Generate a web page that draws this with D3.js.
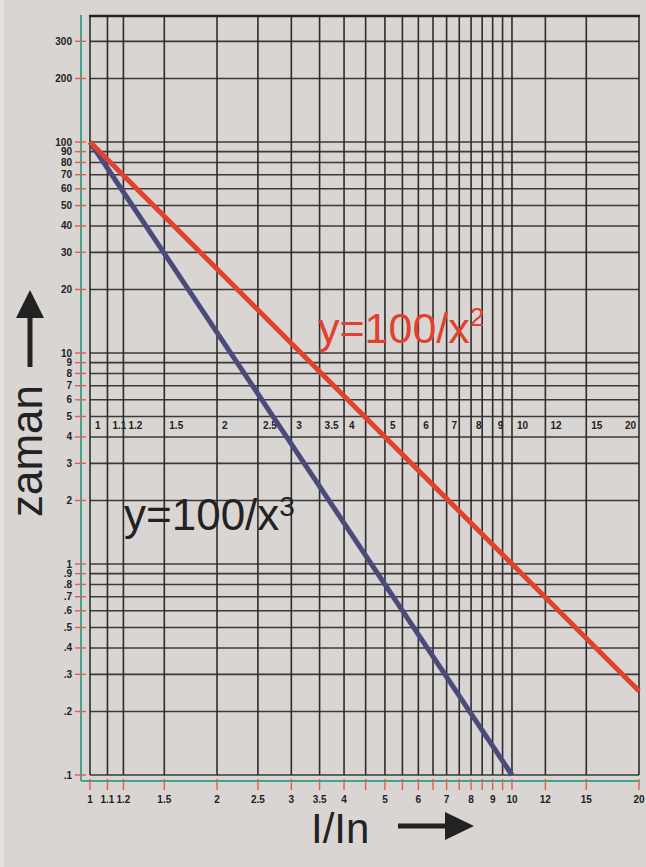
<!DOCTYPE html>
<html>
<head>
<meta charset="utf-8">
<script src="https://cdn.jsdelivr.net/npm/d3@7"></script>
<style>
  body { margin: 0; background: #d9d5d2; }
  svg { display: block; font-family: "Liberation Sans", Arial, sans-serif; }
</style>
</head>
<body>
<script>
// grid values on the two log axes
var xGrid = [1, 1.1, 1.2, 1.5, 2, 2.5, 3, 3.5, 4, 4.5, 5, 5.5, 6, 6.5, 7, 7.5, 8, 8.5, 9, 9.5, 10, 12, 15, 20];
var xLabels = [1, 1.1, 1.2, 1.5, 2, 2.5, 3, 3.5, 4, 5, 6, 7, 8, 9, 10, 12, 15, 20];
var yGrid = [0.1, 0.2, 0.3, 0.4, 0.5, 0.6, 0.7, 0.8, 0.9, 1, 2, 3, 4, 5, 6, 7, 8, 9, 10, 20, 30, 40, 50, 60, 70, 80, 90, 100, 200, 300];
var yLabels = [".1", ".2", ".3", ".4", ".5", ".6", ".7", ".8", ".9", "1", "2", "3", "4", "5", "6", "7", "8", "9", "10", "20", "30", "40", "50", "60", "70", "80", "90", "100", "200", "300"];

// the two curves, end points
var sq = [[1, 100], [20, 0.25]];     // y=100/x^2
var cube = [[1, 100], [10, 0.1]];    // y=100/x^3

var width = 646, height = 867;
var plotTop = 16;

var x = d3.scaleLog().domain([1, 20]).range([90, 639]);
var y = d3.scaleLog().domain([0.1, 100]).range([775, 142]);

var svg = d3.select("body").append("svg")
	.attr("width", width)
	.attr("height", height);

svg.append("rect").attr("width", width).attr("height", height).attr("fill", "#d9d5d2");
svg.append("rect").attr("width", 4).attr("height", height).attr("fill", "#e4e2e0");

// grid
svg.selectAll(".hg")
	.data(yGrid)
	.enter().append("line")
	.attr("x1", x(1)).attr("x2", x(20))
	.attr("y1", function(d) { return y(d); })
	.attr("y2", function(d) { return y(d); })
	.attr("stroke", "#3a3a3a")
	.attr("stroke-width", 1.6);

svg.selectAll(".vg")
	.data(xGrid)
	.enter().append("line")
	.attr("x1", function(d) { return x(d); })
	.attr("x2", function(d) { return x(d); })
	.attr("y1", plotTop).attr("y2", y(0.1))
	.attr("stroke", "#2c2c2c")
	.attr("stroke-width", 1.6);

svg.append("line")
	.attr("x1", x(1) - 1).attr("x2", x(20) + 1)
	.attr("y1", plotTop).attr("y2", plotTop)
	.attr("stroke", "#222")
	.attr("stroke-width", 2.4);

// labels inside the plot (the last one sits left of its line)
svg.selectAll(".il")
	.data(xLabels)
	.enter().append("text")
	.attr("x", function(d, i) { return i == xLabels.length - 1 ? x(d) - 3 : x(d) + 5; })
	.attr("y", y(4.55))
	.attr("dy", "0.35em")
	.attr("text-anchor", function(d, i) { return i == xLabels.length - 1 ? "end" : "start"; })
	.attr("font-size", 10)
	.attr("font-weight", "bold")
	.attr("fill", "#222")
	.text(function(d) { return d; });

// curves
var line = d3.line()
	.x(function(d) { return x(d[0]); })
	.y(function(d) { return y(d[1]); });

svg.append("path").datum(cube)
	.attr("d", line)
	.attr("fill", "none")
	.attr("stroke", "#4b4a7c")
	.attr("stroke-width", 5);

svg.append("path").datum(sq)
	.attr("d", line)
	.attr("fill", "none")
	.attr("stroke", "#e2412f")
	.attr("stroke-width", 5);

// green axes
svg.append("line")
	.attr("x1", 81).attr("x2", 81)
	.attr("y1", 15).attr("y2", 781)
	.attr("stroke", "#44a393").attr("stroke-width", 2);
svg.append("line")
	.attr("x1", 81).attr("x2", x(20))
	.attr("y1", 781).attr("y2", 781)
	.attr("stroke", "#44a393").attr("stroke-width", 2);

// y ticks
svg.selectAll(".yt")
	.data(yGrid)
	.enter().append("line")
	.attr("x1", 75).attr("x2", 86)
	.attr("y1", function(d) { return y(d); })
	.attr("y2", function(d) { return y(d); })
	.attr("stroke", "#e85a4a").attr("stroke-width", 1.4);

svg.selectAll(".yl")
	.data(yGrid)
	.enter().append("text")
	.attr("x", 72)
	.attr("y", function(d) { return y(d); })
	.attr("dy", "0.35em")
	.attr("text-anchor", "end")
	.attr("font-size", 10)
	.attr("font-weight", "bold")
	.attr("fill", "#222")
	.text(function(d, i) { return yLabels[i]; });

// x ticks
svg.selectAll(".xt")
	.data(xGrid)
	.enter().append("line")
	.attr("x1", function(d) { return x(d); })
	.attr("x2", function(d) { return x(d); })
	.attr("y1", 779).attr("y2", 790)
	.attr("stroke", "#e85a4a").attr("stroke-width", 1.4);

svg.selectAll(".xl")
	.data(xLabels)
	.enter().append("text")
	.attr("x", function(d) { return x(d); })
	.attr("y", 803)
	.attr("text-anchor", "middle")
	.attr("font-size", 10)
	.attr("font-weight", "bold")
	.attr("fill", "#222")
	.text(function(d) { return d; });

// curve names
var t2 = svg.append("text")
	.attr("x", 318).attr("y", 343)
	.attr("font-size", 43)
	.attr("fill", "#e2412f")
	.text("y=100/x");
t2.append("tspan").attr("dy", -17).attr("font-size", 26).text("2");

var t3 = svg.append("text")
	.attr("x", 124).attr("y", 530)
	.attr("font-size", 44)
	.attr("fill", "#222")
	.text("y=100/x");
t3.append("tspan").attr("dy", -14).attr("font-size", 28).text("3");

// axis titles and arrows
svg.append("text")
	.attr("transform", "translate(42,451) rotate(-90)")
	.attr("text-anchor", "middle")
	.attr("font-size", 44)
	.attr("fill", "#222")
	.text("zaman");

svg.append("line")
	.attr("x1", 30).attr("x2", 30)
	.attr("y1", 367).attr("y2", 314)
	.attr("stroke", "#222").attr("stroke-width", 5);
svg.append("path")
	.attr("d", "M30,290L44,318L16,318Z")
	.attr("fill", "#222");

svg.append("text")
	.attr("x", 311).attr("y", 843)
	.attr("font-size", 42)
	.attr("fill", "#222")
	.text("I/In");

svg.append("line")
	.attr("x1", 398).attr("x2", 450)
	.attr("y1", 826).attr("y2", 826)
	.attr("stroke", "#222").attr("stroke-width", 5);
svg.append("path")
	.attr("d", "M474,826L445,812L445,840Z")
	.attr("fill", "#222");
</script>
</body>
</html>
